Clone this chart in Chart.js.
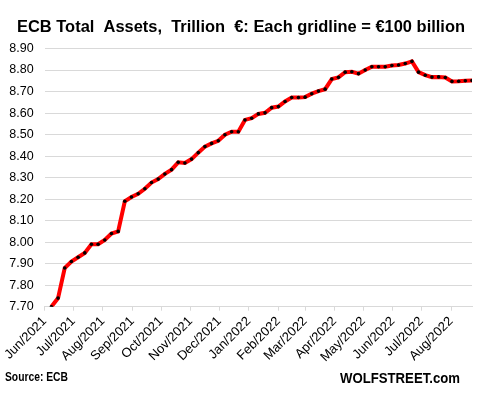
<!DOCTYPE html>
<html>
<head>
<meta charset="utf-8">
<script src="https://cdn.jsdelivr.net/npm/chart.js@4/dist/chart.umd.min.js"></script>
<style>
  body { margin: 0; background: #fff; }
  #wrap { width: 478px; height: 397px; }
</style>
</head>
<body>
<div id="wrap"><canvas id="ecbChart" width="478" height="397"></canvas></div>
<script>
// weekly statement dates (Tuesdays)
const weekDates = [
  "2021-06-08", "2021-06-15", "2021-06-22", "2021-06-29",
  "2021-07-06", "2021-07-13", "2021-07-20", "2021-07-27",
  "2021-08-03", "2021-08-10", "2021-08-17", "2021-08-24", "2021-08-31",
  "2021-09-07", "2021-09-14", "2021-09-21", "2021-09-28",
  "2021-10-05", "2021-10-12", "2021-10-19", "2021-10-26",
  "2021-11-02", "2021-11-09", "2021-11-16", "2021-11-23", "2021-11-30",
  "2021-12-07", "2021-12-14", "2021-12-21", "2021-12-28",
  "2022-01-04", "2022-01-11", "2022-01-18", "2022-01-25",
  "2022-02-01", "2022-02-08", "2022-02-15", "2022-02-22",
  "2022-03-01", "2022-03-08", "2022-03-15", "2022-03-22", "2022-03-29",
  "2022-04-05", "2022-04-12", "2022-04-19", "2022-04-26",
  "2022-05-03", "2022-05-10", "2022-05-17", "2022-05-24", "2022-05-31",
  "2022-06-07", "2022-06-14", "2022-06-21", "2022-06-28",
  "2022-07-05", "2022-07-12", "2022-07-19", "2022-07-26",
  "2022-08-02", "2022-08-09", "2022-08-16", "2022-08-23"
];

// total assets, trillion euro
const totalAssets = [
  7.70, 7.74, 7.88, 7.91,
  7.93, 7.95, 7.99, 7.99,
  8.01, 8.04, 8.05, 8.19, 8.21,
  8.225, 8.248, 8.277, 8.293,
  8.317, 8.337, 8.371, 8.368,
  8.386, 8.416, 8.444, 8.459, 8.471,
  8.499, 8.513, 8.513, 8.568,
  8.576, 8.596, 8.601, 8.625,
  8.630, 8.654, 8.672, 8.672,
  8.674, 8.690, 8.702, 8.711, 8.758,
  8.766, 8.790, 8.792, 8.783,
  8.800, 8.815, 8.815, 8.815, 8.821,
  8.823, 8.830, 8.840, 8.790,
  8.776, 8.767, 8.768, 8.765,
  8.747, 8.748, 8.750, 8.751
];

const monthStarts = [
  "2021-06-01", "2021-07-01", "2021-08-01", "2021-09-01", "2021-10-01",
  "2021-11-01", "2021-12-01", "2022-01-01", "2022-02-01", "2022-03-01",
  "2022-04-01", "2022-05-01", "2022-06-01", "2022-07-01", "2022-08-01"
];
const monthLabels = [
  "Jun/2021", "Jul/2021", "Aug/2021", "Sep/2021", "Oct/2021",
  "Nov/2021", "Dec/2021", "Jan/2022", "Feb/2022", "Mar/2022",
  "Apr/2022", "May/2022", "Jun/2022", "Jul/2022", "Aug/2022"
];

const yTicks = [7.70, 7.80, 7.90, 8.00, 8.10, 8.20, 8.30, 8.40, 8.50, 8.60, 8.70, 8.80, 8.90];

const dayZero = Date.parse(monthStarts[0]);
const toDay = d => Math.round((Date.parse(d) - dayZero) / 86400000);

const points = weekDates.map((d, i) => ({ x: toDay(d), y: totalAssets[i] }));

Chart.defaults.font.family = "'Liberation Sans', Arial, sans-serif";
Chart.defaults.color = "#000";

const textPlugin = {
  id: "texts",
  afterDraw(chart) {
    const ctx = chart.ctx;
    ctx.save();
    ctx.fillStyle = "#000";
    ctx.textBaseline = "alphabetic";
    ctx.textAlign = "center";
    ctx.font = "bold 17px 'Liberation Sans', Arial, sans-serif";
    ctx.fillText("ECB Total  Assets,  Trillion  €: Each gridline = €100 billion", 241, 32, 448);
    ctx.textAlign = "left";
    ctx.font = "bold 12px 'Liberation Sans', Arial, sans-serif";
    ctx.fillText("Source: ECB", 5, 381, 63);
    ctx.font = "bold 15px 'Liberation Sans', Arial, sans-serif";
    ctx.fillText("WOLFSTREET.com", 340, 383, 120);
    ctx.restore();
  }
};

new Chart(document.getElementById("ecbChart"), {
  type: "line",
  data: {
    datasets: [{
      data: points,
      borderColor: "#ff0000",
      borderWidth: 4,
      tension: 0,
      pointRadius: 1.8,
      pointBorderWidth: 0,
      pointBackgroundColor: "#000",
      pointHoverRadius: 1.8
    }]
  },
  options: {
    responsive: false,
    animation: false,
    layout: { padding: { top: 48.5, right: 6, left: 0, bottom: 0 } },
    plugins: {
      legend: { display: false },
      tooltip: { enabled: false }
    },
    scales: {
      x: {
        type: "linear",
        min: 0,
        max: toDay(weekDates[weekDates.length - 1]),
        afterBuildTicks: scale => {
          scale.ticks = monthStarts.map(d => ({ value: toDay(d) }));
        },
        afterFit: scale => { scale.height = 90.3; },
        grid: {
          drawOnChartArea: false,
          color: "#d9d9d9",
          tickLength: 4
        },
        border: { color: "#d9d9d9" },
        ticks: {
          autoSkip: false,
          minRotation: 45,
          maxRotation: 45,
          padding: 3,
          font: { size: 13 },
          callback: (v, i) => monthLabels[i]
        }
      },
      y: {
        min: 7.7,
        max: 8.9,
        afterBuildTicks: scale => {
          scale.ticks = yTicks.map(v => ({ value: v }));
        },
        afterFit: scale => { scale.width = 44.7; },
        grid: { color: "#d9d9d9", drawTicks: false },
        border: { display: false },
        ticks: {
          padding: 11,
          font: { size: 12.5 },
          callback: v => v.toFixed(2)
        }
      }
    }
  },
  plugins: [textPlugin]
});
</script>
</body>
</html>
